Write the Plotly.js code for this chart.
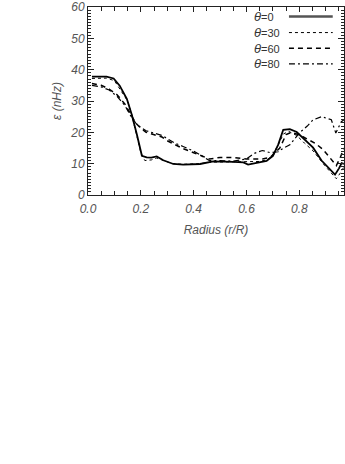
<!DOCTYPE html>
<html>
<head>
<meta charset="utf-8">
<script src="https://cdn.plot.ly/plotly-3.0.1.min.js"></script>
<style>
  html, body { margin: 0; padding: 0; background: #fff; }
  #plot { width: 345px; height: 464px; }
</style>
</head>
<body>
<div id="plot"></div>
<script>
// frequency splitting epsilon vs radius, four latitudes
// values

var r0 = [0.015, 0.04, 0.07, 0.097, 0.12, 0.147, 0.166, 0.185, 0.204, 0.222, 0.24, 0.26, 0.285, 0.323, 0.36, 0.424, 0.474, 0.55, 0.588, 0.606, 0.65, 0.676, 0.70, 0.72, 0.739, 0.764, 0.79, 0.814, 0.852, 0.884, 0.903, 0.922, 0.935, 0.95, 0.96, 0.969];
var eps0 = [37.8, 37.8, 37.8, 37.2, 34.9, 30.7, 25.5, 19.3, 12.5, 12.0, 11.9, 12.3, 11.1, 9.9, 9.7, 9.9, 10.7, 10.6, 10.4, 9.7, 10.4, 10.9, 12.5, 16.1, 20.8, 21.0, 20.1, 18.2, 15.1, 11.0, 9.4, 7.5, 6.5, 8.5, 10.2, 9.9];

var r30 = [0.015, 0.04, 0.07, 0.1, 0.12, 0.15, 0.166, 0.185, 0.2, 0.215, 0.24, 0.26, 0.29, 0.32, 0.36, 0.42, 0.47, 0.55, 0.6, 0.65, 0.68, 0.70, 0.72, 0.74, 0.76, 0.79, 0.82, 0.852, 0.896, 0.92, 0.94, 0.955, 0.969];
var eps30 = [37.2, 37.3, 37.3, 36.5, 34.0, 30.0, 25.5, 19.0, 13.5, 11.0, 11.2, 11.8, 10.8, 10.0, 9.8, 10.0, 10.5, 10.5, 10.6, 10.7, 11.3, 13.0, 16.0, 19.5, 20.3, 19.0, 16.5, 14.1, 9.4, 7.2, 5.2, 7.0, 9.0];

var r60 = [0.015, 0.05, 0.08, 0.11, 0.14, 0.16, 0.18, 0.2, 0.22, 0.248, 0.28, 0.3, 0.33, 0.36, 0.4, 0.43, 0.46, 0.5, 0.55, 0.6, 0.63, 0.66, 0.69, 0.71, 0.726, 0.75, 0.77, 0.8, 0.83, 0.86, 0.89, 0.915, 0.94, 0.955, 0.969];
var eps60 = [35.6, 35.0, 33.8, 32.0, 29.0, 26.0, 23.0, 21.3, 20.0, 19.3, 18.5, 17.3, 16.0, 14.8, 13.5, 12.5, 11.5, 12.0, 12.0, 11.5, 11.5, 11.5, 12.0, 13.5, 15.0, 19.3, 20.0, 19.2, 17.8, 16.5, 14.5, 12.0, 9.4, 12.0, 15.0];

var r80 = [0.015, 0.05, 0.08, 0.11, 0.14, 0.16, 0.18, 0.2, 0.22, 0.26, 0.28, 0.3, 0.33, 0.36, 0.4, 0.43, 0.46, 0.5, 0.55, 0.6, 0.63, 0.66, 0.69, 0.72, 0.74, 0.764, 0.8, 0.83, 0.852, 0.884, 0.905, 0.921, 0.938, 0.959, 0.969];
var eps80 = [35.0, 34.5, 33.5, 31.5, 28.5, 25.5, 23.0, 21.5, 20.5, 19.6, 19.0, 18.0, 16.5, 15.5, 14.0, 12.5, 11.0, 11.0, 10.8, 11.5, 13.3, 14.2, 13.5, 13.8, 15.0, 16.0, 19.8, 22.0, 24.0, 25.0, 24.5, 24.0, 19.8, 23.4, 24.0];

var names = ['0', '30', '60', '80'];
var dashes = ['solid', 'dot', '5px,4px', '6px,3px,2px,3px'];
var widths = [1.8, 1, 1.5, 1.2];

var xs = [r0, r30, r60, r80];
var ys = [eps0, eps30, eps60, eps80];

var data = [];
for (var i = 0; i < 4; i++) {
    data.push({
        x: xs[i],
        y: ys[i],
        name: 'θ=' + names[i],
        type: 'scatter',
        mode: 'lines',
        line: {color: '#000', width: widths[i], dash: dashes[i]},
        showlegend: false
    });
}

// IDL style legend: label first, line sample after it
var rowY = [0.95, 0.864, 0.78, 0.697];
var annotations = [];
var shapes = [];
for (var k = 0; k < 4; k++) {
    annotations.push({
        xref: 'paper', yref: 'paper',
        x: 0.64, y: rowY[k],
        xanchor: 'left', yanchor: 'middle',
        showarrow: false,
        text: '<span style="font-size:13px"><i>θ</i></span>=' + names[k],
        font: {family: 'Liberation Sans', size: 11, color: '#333'}
    });
    shapes.push({
        type: 'line', xref: 'paper', yref: 'paper',
        x0: 0.785, x1: 0.956, y0: rowY[k], y1: rowY[k],
        line: {color: k == 0 ? '#555' : '#000', width: k == 0 ? 2.5 : widths[k], dash: dashes[k]}
    });
}

var tickFont = {family: 'Liberation Sans', size: 12, color: '#555', style: 'italic'};

var layout = {
    width: 345,
    height: 464,
    margin: {l: 88, r: 1, t: 7, b: 269},
    paper_bgcolor: '#fff',
    plot_bgcolor: '#fff',
    showlegend: false,
    xaxis: {
        range: [0, 0.969],
        tickvals: [0, 0.2, 0.4, 0.6, 0.8],
        ticktext: ['0.0', '0.2', '0.4', '0.6', '0.8'],
        ticks: 'inside',
        ticklen: 5,
        tickcolor: '#222',
        minor: {dtick: 0.05, tick0: 0, ticks: 'inside', ticklen: 4, tickcolor: '#222'},
        mirror: 'allticks',
        showline: true,
        linecolor: '#222',
        linewidth: 1,
        showgrid: false,
        zeroline: false,
        tickfont: tickFont,
        ticklabelstandoff: 3,
        title: {text: '<i>Radius (r/R)</i>', font: {family: 'Liberation Sans', size: 12, color: '#555'}, standoff: 10}
    },
    yaxis: {
        range: [0, 60],
        tickvals: [0, 10, 20, 30, 40, 50, 60],
        ticks: 'inside',
        ticklen: 6,
        tickcolor: '#222',
        minor: {dtick: 1, tick0: 0, ticks: 'inside', ticklen: 3, tickcolor: '#222'},
        mirror: 'allticks',
        showline: true,
        linecolor: '#222',
        linewidth: 1,
        showgrid: false,
        zeroline: false,
        tickfont: tickFont,
        ticklabeloverflow: 'allow',
        title: {text: '<i>ε (nHz)</i>', font: {family: 'Liberation Sans', size: 12, color: '#555'}, standoff: 6}
    },
    annotations: annotations,
    shapes: shapes
};

Plotly.newPlot('plot', data, layout, {displayModeBar: false, staticPlot: true});
</script>
</body>
</html>
